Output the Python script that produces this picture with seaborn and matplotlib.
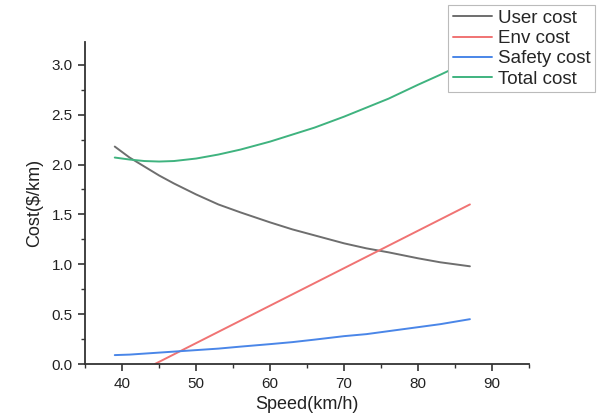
import matplotlib
matplotlib.use("Agg")
import matplotlib.pyplot as plt
import seaborn as sns
import matplotlib.ticker as mtick

sns.set_theme(style="ticks")
plt.rcParams['font.family'] = ['Liberation Sans', 'DejaVu Sans']

# values
speed = [39, 41, 43, 45, 47, 50, 53, 56, 60, 63, 66, 70, 73, 76, 80, 83, 87]
user_cost = [2.18, 2.07, 1.98, 1.89, 1.81, 1.70, 1.60, 1.52, 1.42, 1.35, 1.29,
             1.21, 1.16, 1.12, 1.06, 1.02, 0.98]
safety_cost = [0.09, 0.095, 0.105, 0.115, 0.125, 0.14, 0.155, 0.175, 0.20, 0.22,
               0.245, 0.28, 0.30, 0.33, 0.37, 0.40, 0.45]
total_cost = [2.07, 2.05, 2.035, 2.03, 2.035, 2.06, 2.10, 2.15, 2.23, 2.30, 2.37,
              2.48, 2.57, 2.66, 2.80, 2.90, 3.04]
env_speed = [44.4, 87]
env_cost = [0.0, 1.6]

fig = plt.figure(figsize=(6.04, 4.18), dpi=100)
ax = fig.add_axes([0.141, 0.129, 0.735, 0.771])

sns.lineplot(x=speed, y=user_cost, ax=ax, color="#6e6e6e", lw=1.4, label="User cost")
sns.lineplot(x=env_speed, y=env_cost, ax=ax, color="#f07373", lw=1.4, label="Env cost")
sns.lineplot(x=speed, y=safety_cost, ax=ax, color="#4a86e8", lw=1.4, label="Safety cost")
sns.lineplot(x=speed, y=total_cost, ax=ax, color="#3fb37f", lw=1.4, label="Total cost")

ax.set_xlim(35, 95)
ax.set_ylim(0, 3.23)
ax.xaxis.set_major_locator(mtick.MultipleLocator(10))
ax.xaxis.set_minor_locator(mtick.MultipleLocator(5))
ax.yaxis.set_major_locator(mtick.MultipleLocator(0.5))
ax.yaxis.set_minor_locator(mtick.MultipleLocator(0.25))
ax.yaxis.set_major_formatter(mtick.FormatStrFormatter('%.1f'))

sns.despine(ax=ax)
for s in ["left", "bottom"]:
    ax.spines[s].set_color("#333333")
    ax.spines[s].set_linewidth(1.3)
ax.tick_params(which="major", direction="out", length=5, width=1.2, color="#333333",
               labelsize=11, labelcolor="#222222", pad=4)
ax.tick_params(which="minor", direction="out", length=3, width=1.0, color="#333333")

ax.set_xlabel("Speed(km/h)", fontsize=13, color="#222222", labelpad=4)
ax.set_ylabel("Cost(\\$/km)", fontsize=13, color="#222222", labelpad=6)

ax.get_legend().remove()
h, l = ax.get_legend_handles_labels()
leg = fig.legend(h, l, loc="upper right", bbox_to_anchor=(0.985, 0.988),
                 fontsize=13.5, frameon=True, fancybox=False, framealpha=1,
                 edgecolor="#bbbbbb", handlelength=2.1, handletextpad=0.3,
                 labelspacing=0.17, borderpad=0.25, borderaxespad=0)
leg.get_frame().set_linewidth(0.8)

fig.savefig("out.png", dpi=100)
